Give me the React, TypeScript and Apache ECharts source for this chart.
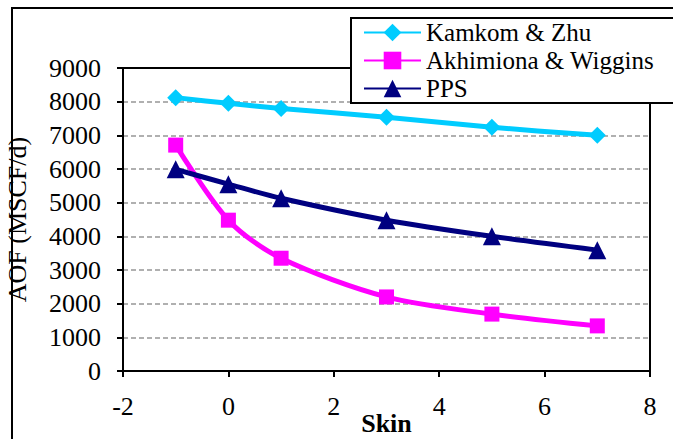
import React, { useEffect, useRef } from "react";
import * as echarts from "echarts";

const skin = [-1, 0, 1, 3, 5, 7];
const kamkom = [8120, 7950, 7800, 7540, 7240, 7000];
const akhimiona = [6710, 4480, 3350, 2200, 1690, 1340];
const pps = [5990, 5550, 5130, 4480, 4000, 3590];
const seriesNames = ["Kamkom & Zhu", "Akhimiona & Wiggins", "PPS"];

const FONT = "Liberation Serif";

export default function App() {
  const ref = useRef<HTMLDivElement>(null);
  useEffect(() => {
    if (!ref.current) return;
    const chart = echarts.init(ref.current, null, { renderer: "svg" });
    const mk = (vals: number[]) => skin.map((x, i) => [x, vals[i]]);
    chart.setOption({
      animation: false,
      textStyle: { fontFamily: FONT },
      grid: {
        left: 123,
        top: 68,
        width: 527,
        height: 303,
        show: true,
        borderColor: "#000",
        borderWidth: 2,
        outerBoundsMode: "none",
        containLabel: false,
      },
      xAxis: {
        type: "value",
        min: -2,
        max: 8,
        interval: 2,
        name: "Skin",
        nameLocation: "middle",
        nameGap: 39,
        nameMoveOverlap: false,
        nameTextStyle: { fontFamily: FONT, fontSize: 26, fontWeight: "bold", color: "#000" },
        axisLine: { show: true, onZero: false, lineStyle: { color: "#000", width: 2 } },
        axisTick: { show: true, inside: false, length: 6, lineStyle: { color: "#000", width: 2 } },
        axisLabel: { fontFamily: FONT, fontSize: 26, color: "#000", margin: 22 },
        splitLine: { show: false },
      },
      yAxis: {
        type: "value",
        min: 0,
        max: 9000,
        interval: 1000,
        name: "AOF (MSCF/d)",
        nameLocation: "middle",
        nameGap: 93,
        nameMoveOverlap: false,
        nameTextStyle: { fontFamily: FONT, fontSize: 26, color: "#000" },
        axisLine: { show: true, onZero: false, lineStyle: { color: "#000", width: 2 } },
        axisTick: { show: true, inside: false, length: 6, lineStyle: { color: "#000", width: 2 } },
        axisLabel: { fontFamily: FONT, fontSize: 26, color: "#000", margin: 22, formatter: (v: number) => String(v) },
        splitLine: { show: true, showMinLine: false, showMaxLine: false, lineStyle: { color: "#969696", width: 1.5, type: [5, 3] } },
      },
      legend: {
        data: seriesNames,
        orient: "vertical",
        left: 351,
        top: 18,
        padding: [2, 20, 2, 12],
        itemGap: 3,
        itemWidth: 57,
        itemHeight: 22,
        backgroundColor: "#fff",
        borderColor: "#000",
        borderWidth: 2,
        borderRadius: 0,
        textStyle: { fontFamily: FONT, fontSize: 25, color: "#000" },
      },
      series: [
        {
          name: seriesNames[0],
          type: "line",
          data: mk(kamkom),
          smooth: 0.3,
          symbol: "diamond",
          symbolSize: 17,
          lineStyle: { width: 5, color: "#00CCFF" },
          itemStyle: { color: "#00CCFF" },
        },
        {
          name: seriesNames[1],
          type: "line",
          data: mk(akhimiona),
          smooth: 0.3,
          symbol: "rect",
          symbolSize: 15,
          lineStyle: { width: 5, color: "#FF00FF" },
          itemStyle: { color: "#FF00FF" },
        },
        {
          name: seriesNames[2],
          type: "line",
          data: mk(pps),
          smooth: 0.3,
          symbol: "triangle",
          symbolSize: 18,
          lineStyle: { width: 5, color: "#000080" },
          itemStyle: { color: "#000080" },
        },
      ],
    });
    return () => chart.dispose();
  }, []);
  return (
    <div style={{ position: "fixed", left: 0, top: 0, width: 673, height: 439, background: "#fff", overflow: "hidden" }}>
      <style>{"#root svg text, #root svg tspan { font-family: 'Liberation Serif', serif !important; }"}</style>
      <div ref={ref} style={{ position: "absolute", left: 0, top: 0, width: 673, height: 439 }} />
      <div
        style={{
          position: "absolute",
          left: 11,
          top: 7,
          width: 700,
          height: 500,
          border: "2px solid #000",
          pointerEvents: "none",
        }}
      />
    </div>
  );
}
